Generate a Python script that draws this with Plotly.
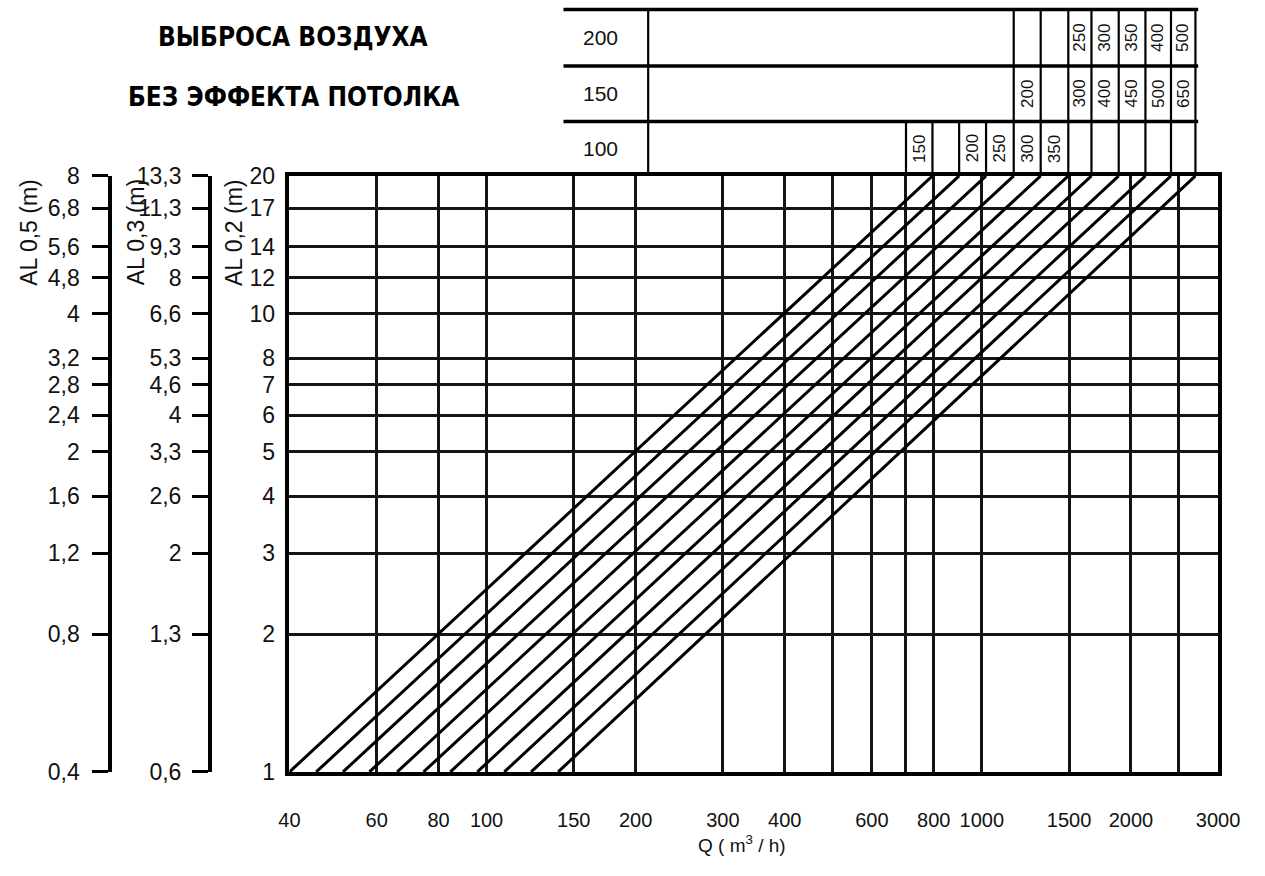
import numpy as np
import plotly.graph_objects as go

W, H = 1265, 876

# ---------------- data ----------------
q_ticks = [40, 60, 80, 100, 150, 200, 300, 400, 600, 800, 1000, 1500, 2000, 3000]
q_tick_labels = ["40", "60", "80", "100", "150", "200", "300", "400", "600", "800",
                 "1000", "1500", "2000", "3000"]
q_extra_grid = [500, 700, 2500]

al02_ticks = [1, 2, 3, 4, 5, 6, 7, 8, 10, 12, 14, 17, 20]
al05_labels = ["0,4", "0,8", "1,2", "1,6", "2", "2,4", "2,8", "3,2", "4", "4,8", "5,6", "6,8", "8"]
al03_labels = ["0,6", "1,3", "2", "2,6", "3,3", "4", "4,6", "5,3", "6,6", "8", "9,3", "11,3", "13,3"]

# throw lines: Q where each line meets AL0,2 = 1 m and AL0,2 = 20 m
line_al = [1, 20]
line_q_at_1 = [40, 45.3, 51.3, 58, 66, 74.6, 84.5, 95.8, 108.6, 123, 139.5]
line_q_at_20 = [795, 900, 1020, 1160, 1315, 1495, 1665, 1890, 2140, 2410, 2700]

# top table (rows = model, cells = size for each line)
table_rows = ["200", "150", "100"]
row200_sizes = ["", "", "", "", "", "", "250", "300", "350", "400", "500"]
row150_sizes = ["", "", "", "", "200", "", "300", "400", "450", "500", "650"]
row100_sizes = ["150", "", "200", "250", "300", "350", "", "", "", "", ""]
row_first_cell = [4, 4, 0]
row100_left_q = 703

title_lines = ["ВЫБРОСА ВОЗДУХА", "БЕЗ ЭФФЕКТА ПОТОЛКА"]

# ---------------- helpers (pixel of reference -> paper fraction) ----------------
OX, OY, PW, PH = 8.5, 8.5, 1236.5, 858.5


def px(x):
    return (x - OX) / PW


def py(y):
    return 1 - (y - OY) / PH


FONT = "Liberation Sans, Arial, sans-serif"
NARROW = "Liberation Sans Narrow, Arial Narrow, DejaVu Sans Condensed, sans-serif"

fig = go.Figure()

for q1, q20 in zip(line_q_at_1, line_q_at_20):
    fig.add_trace(go.Scatter(x=[q1, q20], y=line_al, mode="lines",
                             line=dict(color="black", width=3),
                             hoverinfo="skip", showlegend=False))

# invisible traces for the extra left axes
for ax in ["y3", "y4"]:
    fig.add_trace(go.Scatter(x=[40], y=[1], yaxis=ax, mode="markers",
                             marker=dict(opacity=0), hoverinfo="skip", showlegend=False))

dom_x = [px(288), px(1220)]
dom_y = [py(775), py(173)]
GRID = "#151515"
GW = 2.8

fig.update_layout(
    width=W, height=H,
    margin=dict(l=0, r=0, t=0, b=0),
    paper_bgcolor="white", plot_bgcolor="white",
    showlegend=False,
    font=dict(family=FONT, color="#111"),
    xaxis=dict(type="log", range=[np.log10(40), np.log10(3000)], domain=dom_x,
               tickvals=q_ticks, ticktext=q_tick_labels, tickfont=dict(size=20),
               showgrid=True, gridcolor=GRID, gridwidth=GW,
               minor=dict(tickvals=q_extra_grid, showgrid=True, gridcolor=GRID,
                          gridwidth=GW, ticks=""),
               showline=True, mirror=True, linecolor="black", linewidth=3.5,
               ticks="", ticklabelstandoff=27, zeroline=False),
    yaxis=dict(type="log", range=[0, np.log10(20)], domain=dom_y,
               tickvals=al02_ticks, ticktext=[str(v) for v in al02_ticks],
               tickfont=dict(size=23),
               showgrid=True, gridcolor=GRID, gridwidth=GW,
               showline=True, mirror=True, linecolor="black", linewidth=3.5,
               ticks="", ticklabelstandoff=6, zeroline=False),
    yaxis3=dict(type="log", range=[0, np.log10(20)], overlaying="y", anchor="free",
                position=px(108), side="left",
                tickvals=al02_ticks, ticktext=al05_labels, tickfont=dict(size=23),
                ticks="outside", ticklen=16, tickwidth=2.5, tickcolor="black",
                ticklabelstandoff=8,
                showline=True, linecolor="black", linewidth=3.5, showgrid=False, zeroline=False),
    yaxis4=dict(type="log", range=[0, np.log10(20)], overlaying="y", anchor="free",
                position=px(208), side="left",
                tickvals=al02_ticks, ticktext=al03_labels, tickfont=dict(size=23),
                ticks="outside", ticklen=16, tickwidth=2.5, tickcolor="black",
                ticklabelstandoff=6,
                showline=True, linecolor="black", linewidth=3.5, showgrid=False, zeroline=False),
)

shapes = []
ann = []


def note(text, x, y, size, xref="paper", angle=0, family=FONT, color="#111"):
    ann.append(dict(text=text, x=x, y=y, xref=xref, yref="paper", textangle=angle,
                    xanchor="center", yanchor="middle", showarrow=False,
                    font=dict(size=size, family=family, color=color)))


# axis titles
for txt, xx in [("AL 0,5 (m)", 27), ("AL 0,3 (m)", 134), ("AL 0,2 (m)", 233)]:
    note(txt, px(xx), py(230), 23, angle=-90)

note("Q ( m<sup>3</sup> / h)", px(742), py(848), 19)

# titles
for txt, yy in zip(title_lines, [33, 93]):
    note("<b>" + txt + "</b>", px(292), py(yy), 26, family=NARROW, color="black")

# ---------------- table ----------------
row_edges = [5, 62, 118, 173]
tab_left, tab_col, tab_right = 563, 648, 1200
for yy in row_edges[:3]:
    shapes.append(dict(type="line", xref="paper", yref="paper", x0=px(tab_left), x1=px(tab_right),
                       y0=py(yy), y1=py(yy), line=dict(color="black", width=3.5)))
shapes.append(dict(type="line", xref="paper", yref="paper", x0=px(tab_col), x1=px(tab_col),
                   y0=py(row_edges[0]), y1=py(row_edges[3]), line=dict(color="black", width=2.2)))

row_sizes = [row200_sizes, row150_sizes, row100_sizes]
for r, (name, sizes, first) in enumerate(zip(table_rows, row_sizes, row_first_cell)):
    ytop, ybot = row_edges[r], row_edges[r + 1]
    note(name, px(600), py((ytop + ybot) / 2), 21)
    left = row100_left_q if first == 0 else line_q_at_20[first - 1]
    bounds = [left] + line_q_at_20[first:]
    for q in bounds:
        shapes.append(dict(type="line", xref="x", yref="paper", x0=q, x1=q,
                           y0=py(ybot), y1=py(ytop), line=dict(color="black", width=2.2)))
    for k in range(first, len(line_q_at_20)):
        lab = sizes[k]
        if not lab:
            continue
        lo = bounds[k - first]
        hi = bounds[k - first + 1]
        note(lab, (np.log10(lo) + np.log10(hi)) / 2, py((ytop + ybot) / 2), 17,
             xref="x", angle=-90)

fig.update_layout(shapes=shapes, annotations=ann)

fig.write_html("out.html", config={"displayModeBar": False},
               post_script="document.body.style.margin='0';document.body.style.overflow='hidden';")
